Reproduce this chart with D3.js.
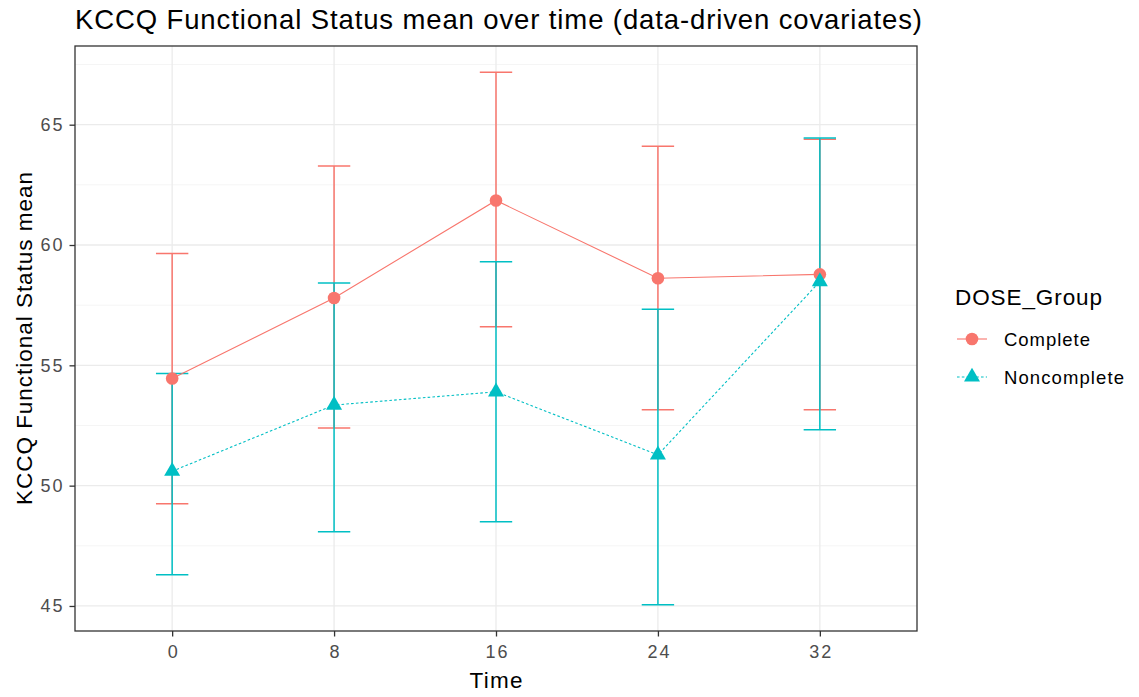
<!DOCTYPE html>
<html>
<head>
<meta charset="utf-8">
<script src="https://cdn.jsdelivr.net/npm/d3@7"></script>
<style>
  html, body { margin: 0; padding: 0; background: #fff; }
  svg { display: block; font-family: "Liberation Sans", Arial, sans-serif; }
</style>
</head>
<body>
<svg id="chart" width="1139" height="697"></svg>
<script>
// ---- data ----
const times = ["0", "8", "16", "24", "32"];
const groups = ["Complete", "Noncomplete"];
const completeMean  = [54.45, 57.8, 61.85, 58.62, 58.78];
const completeLow   = [49.25, 52.4, 56.6, 53.15, 53.15];
const completeHigh  = [59.65, 63.28, 67.18, 64.1, 64.4];
const noncompMean   = [50.6, 53.35, 53.9, 51.28, 58.48];
const noncompLow    = [46.3, 48.08, 48.5, 45.05, 52.32];
const noncompHigh   = [54.66, 58.42, 59.3, 57.33, 64.45];
const yTicks = [45, 50, 55, 60, 65];
const yMinor = [47.5, 52.5, 57.5, 62.5, 67.5];
const colors = ["#F8766D", "#00BFC4"];

const series = [
  { name: groups[0], color: colors[0], mean: completeMean, low: completeLow, high: completeHigh, dash: null, shape: "circle", labelLen: 86 },
  { name: groups[1], color: colors[1], mean: noncompMean, low: noncompLow, high: noncompHigh, dash: "2.6,2.2", shape: "triangle", labelLen: 120 }
];

// ---- layout ----
const panel = { left: 75, right: 917, top: 46, bottom: 631 };
const svg = d3.select("#chart");

const x = d3.scalePoint().domain(times).range([panel.left, panel.right]).padding(0.6);
const y = d3.scaleLinear().domain([43.96, 68.27]).range([panel.bottom, panel.top]);

// panel background
svg.append("rect").attr("x", panel.left).attr("y", panel.top)
  .attr("width", panel.right - panel.left).attr("height", panel.bottom - panel.top)
  .attr("fill", "#fff");

// grid
const grid = svg.append("g");
grid.selectAll(".ymin").data(yMinor).enter().append("line")
  .attr("x1", panel.left).attr("x2", panel.right)
  .attr("y1", d => y(d)).attr("y2", d => y(d))
  .attr("stroke", "#F2F2F2").attr("stroke-width", 0.8);
grid.selectAll(".ymaj").data(yTicks).enter().append("line")
  .attr("x1", panel.left).attr("x2", panel.right)
  .attr("y1", d => y(d)).attr("y2", d => y(d))
  .attr("stroke", "#EBEBEB").attr("stroke-width", 1.3);
grid.selectAll(".xmaj").data(times).enter().append("line")
  .attr("y1", panel.top).attr("y2", panel.bottom)
  .attr("x1", d => x(d)).attr("x2", d => x(d))
  .attr("stroke", "#EBEBEB").attr("stroke-width", 1.3);

const capHalf = (x(times[1]) - x(times[0])) * 0.1;

// error bars
series.forEach(s => {
  const g = svg.append("g").attr("stroke", s.color).attr("stroke-width", 1.5).attr("fill", "none");
  times.forEach((t, i) => {
    const cx = x(t);
    g.append("line").attr("x1", cx).attr("x2", cx).attr("y1", y(s.low[i])).attr("y2", y(s.high[i]));
    g.append("line").attr("x1", cx - capHalf).attr("x2", cx + capHalf).attr("y1", y(s.low[i])).attr("y2", y(s.low[i]));
    g.append("line").attr("x1", cx - capHalf).attr("x2", cx + capHalf).attr("y1", y(s.high[i])).attr("y2", y(s.high[i]));
  });
});

// lines
const lineGen = d3.line().x(d => x(d.t)).y(d => y(d.v));
series.forEach(s => {
  svg.append("path")
    .datum(times.map((t, i) => ({ t, v: s.mean[i] })))
    .attr("d", lineGen)
    .attr("fill", "none").attr("stroke", s.color).attr("stroke-width", 1.1)
    .attr("stroke-dasharray", s.dash);
});

// points
function triPath(cx, cy, w) {
  const h = w * Math.sqrt(3) / 2;
  return `M${cx},${cy - h * 2 / 3}L${cx + w / 2},${cy + h / 3}L${cx - w / 2},${cy + h / 3}Z`;
}
function drawPoint(g, s, cx, cy) {
  if (s.shape === "circle") {
    g.append("circle").attr("cx", cx).attr("cy", cy).attr("r", 6.3).attr("fill", s.color);
  } else {
    g.append("path").attr("d", triPath(cx, cy, 16)).attr("fill", s.color);
  }
}
series.forEach(s => {
  const g = svg.append("g");
  times.forEach((t, i) => drawPoint(g, s, x(t), y(s.mean[i])));
});

// panel border
svg.append("rect").attr("x", panel.left).attr("y", panel.top)
  .attr("width", panel.right - panel.left).attr("height", panel.bottom - panel.top)
  .attr("fill", "none").attr("stroke", "#333333").attr("stroke-width", 1.3);

// axes
const tickFont = "18px";
const yAxis = d3.axisLeft(y).tickValues(yTicks).tickSize(5.5).tickPadding(7);
const yg = svg.append("g").attr("transform", `translate(${panel.left},0)`).call(yAxis);
yg.select(".domain").remove();
yg.selectAll(".tick line").attr("stroke", "#333333").attr("stroke-width", 1.3);
yg.selectAll(".tick text").attr("fill", "#4D4D4D").style("font-size", tickFont)
  .style("font-family", "Liberation Sans, Arial, sans-serif")
  .attr("textLength", 22).attr("lengthAdjust", "spacing");

const xAxis = d3.axisBottom(x).tickSize(5.5).tickPadding(9);
const xg = svg.append("g").attr("transform", `translate(0,${panel.bottom})`).call(xAxis);
xg.select(".domain").remove();
xg.selectAll(".tick line").attr("stroke", "#333333").attr("stroke-width", 1.3);
xg.selectAll(".tick text").attr("fill", "#4D4D4D").style("font-size", tickFont)
  .style("font-family", "Liberation Sans, Arial, sans-serif")
  .each(function(d) { if (d.length > 1) d3.select(this).attr("textLength", 22).attr("lengthAdjust", "spacing"); });

// titles
svg.append("text").attr("x", panel.left).attr("y", 29.3)
  .style("font-size", "27.5px").attr("fill", "#000")
  .attr("textLength", 847).attr("lengthAdjust", "spacing")
  .text("KCCQ Functional Status mean over time (data-driven covariates)");
svg.append("text").attr("x", (panel.left + panel.right) / 2).attr("y", 687.5)
  .attr("text-anchor", "middle").style("font-size", "22.5px").attr("fill", "#000")
  .attr("textLength", 53).attr("lengthAdjust", "spacing")
  .text("Time");
svg.append("text").attr("transform", `translate(31.5,${(panel.top + panel.bottom) / 2}) rotate(-90)`)
  .attr("text-anchor", "middle").style("font-size", "22.5px").attr("fill", "#000")
  .attr("textLength", 333).attr("lengthAdjust", "spacing")
  .text("KCCQ Functional Status mean");

// legend
const lg = svg.append("g");
lg.append("text").attr("x", 955).attr("y", 305).style("font-size", "22.5px").attr("fill", "#000")
  .attr("textLength", 147).attr("lengthAdjust", "spacing")
  .text("DOSE_Group");
const legY = [339, 377];
series.forEach((s, i) => {
  const cy = legY[i];
  lg.append("line").attr("x1", 957).attr("x2", 987).attr("y1", cy).attr("y2", cy)
    .attr("stroke", s.color).attr("stroke-width", 1.1).attr("stroke-dasharray", s.dash);
  drawPoint(lg, s, 972, cy);
  lg.append("text").attr("x", 1004).attr("y", cy + 7).style("font-size", "18.5px").attr("fill", "#000")
    .attr("textLength", s.labelLen).attr("lengthAdjust", "spacing")
    .text(s.name);
});
</script>
</body>
</html>
